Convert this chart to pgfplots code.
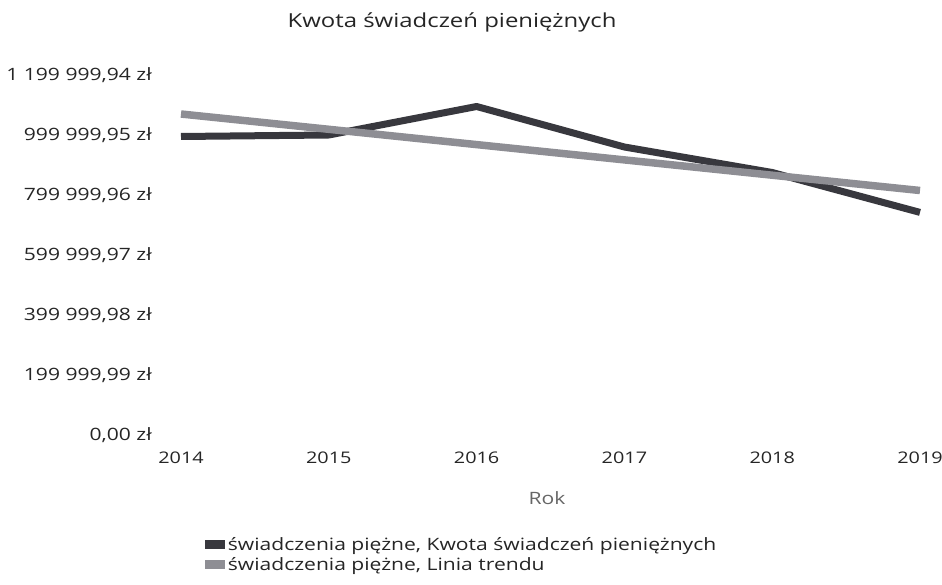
\documentclass[border=0pt]{standalone}
\usepackage{fontspec}
\setmainfont{Open Sans}[FakeStretch=1.24]
\usepackage{pgfplots}
\pgfplotsset{compat=1.18}
\definecolor{darkline}{HTML}{38383E}
\definecolor{lightline}{HTML}{8E8E94}
\definecolor{txt}{HTML}{252525}
\begin{document}
\begin{tikzpicture}
\useasboundingbox (-181bp,-150bp) rectangle (761bp,435bp);
\begin{axis}[
  at={(0,0)}, anchor=south west,
  scale only axis, width=739bp, height=360bp,
  xmin=2014, xmax=2019, ymin=0, ymax=1200000,
  scaled y ticks=false,
  axis line style={draw=none},
  major tick length=0pt,
  xtick={2014,2015,2016,2017,2018,2019},
  xticklabels={2014,2015,2016,2017,2018,2019},
  ytick={0,200000,400000,600000,800000,1000000,1200000},
  yticklabels={{0,00 zł},{199 999,99 zł},{399 999,98 zł},{599 999,97 zł},{799 999,96 zł},{999 999,95 zł},{1 199 999,94 zł}},
  ticklabel style={font=\fontsize{17bp}{20bp}\selectfont, text=txt, inner sep=0pt},
  yticklabel style={anchor=east, xshift=-29bp},
  xticklabel style={anchor=north, yshift=-17bp, font=\fontsize{16bp}{19bp}\selectfont},
  xlabel={Rok},
  xlabel style={at={(rel axis cs:0.4953,0)}, anchor=center, yshift=-63bp, font=\fontsize{17bp}{20bp}\selectfont, text=black!60},
  legend style={at={(rel axis cs:0.032,-0.28)}, anchor=north west, draw=none, fill=none,
    font=\fontsize{17bp}{20bp}\selectfont, text=txt, row sep=4bp, inner sep=0pt,
    nodes={inner xsep=3bp, inner ysep=1bp}},
  legend cell align=left,
  legend image code/.code={\fill[#1, draw=none] (0bp,-4.5bp) rectangle (20bp,4.5bp);},
  clip=false,
]
\addplot[darkline, line width=7bp, line join=round] coordinates {
  (2014,995000) (2015,1000000) (2016,1095000) (2017,960000) (2018,875000) (2019,742000)
};
\addlegendentry{świadczenia piężne, Kwota świadczeń pieniężnych}
\addplot[lightline, line width=7.5bp] coordinates {
  (2014,1070000) (2019,815000)
};
\addlegendentry{świadczenia piężne, Linia trendu}
\end{axis}
\node[font=\fontsize{19.3bp}{23bp}\selectfont, text=txt] at (271bp,413bp) {Kwota świadczeń pieniężnych};
\end{tikzpicture}
\end{document}
